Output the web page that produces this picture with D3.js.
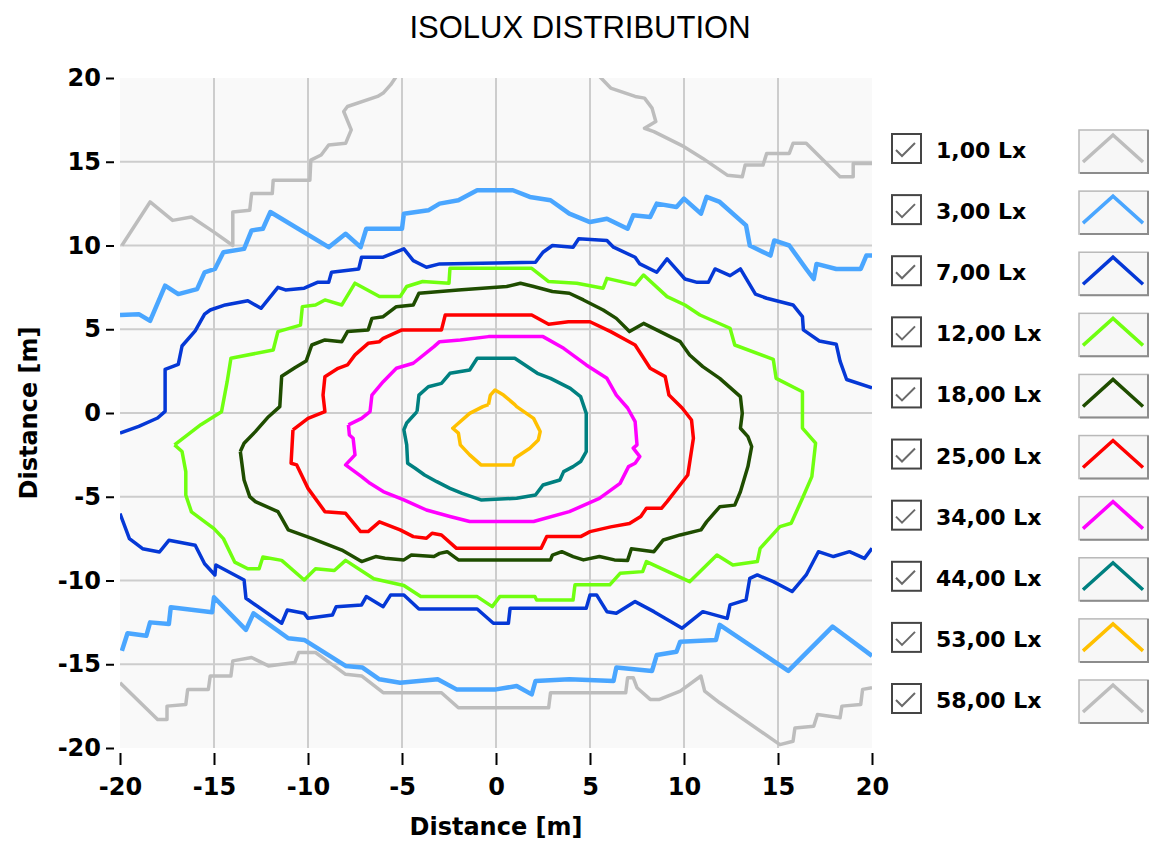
<!DOCTYPE html>
<html>
<head>
<meta charset="utf-8">
<script src="https://cdn.jsdelivr.net/npm/d3@7"></script>
<style>
    body { margin: 0; background: #fff; }
    svg { display: block; }
    .axis text { font-family: "DejaVu Sans", Verdana, sans-serif; font-weight: bold; font-size: 24px; fill: #000; }
    .axis line { stroke: #000; stroke-width: 2; }
</style>
</head>
<body>
<div class="chart"></div>
<script>
// isolux lines, [x, y] in metres
const lx1TopLeft = [[-19.9,10.0],[-18.4,12.6],[-17.2,11.5],[-16.2,11.7],[-15.0,10.8],[-14.0,10.0],[-14.0,12.0],[-13.1,12.1],[-13.0,13.1],[-11.9,13.1],[-11.85,13.9],[-9.9,13.9],[-9.85,15.1],[-9.3,15.4],[-8.9,16.0],[-8.0,16.1],[-7.7,16.9],[-8.1,18.0],[-7.9,18.3],[-6.3,18.9],[-6.0,19.1],[-5.6,19.6],[-5.3,20.1]];
const lx1TopRight = [[5.5,20.1],[6.1,19.4],[7.4,18.9],[7.9,18.8],[8.3,18.2],[8.5,17.4],[7.9,17.0],[8.4,16.8],[10.0,15.9],[11.0,15.2],[12.3,14.2],[13.1,14.1],[13.25,14.8],[14.2,14.8],[14.4,15.5],[15.6,15.5],[15.8,16.1],[16.5,16.1],[18.3,14.1],[19.0,14.1],[19.0,14.9],[20.0,14.9]];
const lx1Bottom = [[-20.0,-16.1],[-18.0,-18.3],[-17.5,-18.3],[-17.5,-17.5],[-16.5,-17.4],[-16.4,-16.5],[-15.3,-16.5],[-15.2,-15.7],[-14.1,-15.7],[-14.0,-14.8],[-13.0,-14.6],[-12.1,-15.1],[-10.7,-14.9],[-10.5,-14.3],[-9.6,-14.3],[-8.0,-15.6],[-7.15,-15.7],[-6.0,-16.7],[-2.9,-16.7],[-2.0,-17.6],[2.8,-17.6],[2.9,-16.7],[6.9,-16.7],[7.0,-15.8],[7.3,-15.8],[7.5,-16.4],[8.2,-17.1],[8.7,-17.1],[9.8,-16.6],[10.9,-15.7],[11.1,-16.6],[11.9,-17.3],[15.1,-19.8],[15.8,-19.6],[15.9,-18.8],[16.9,-18.7],[17.1,-18.0],[18.3,-18.2],[18.4,-17.5],[19.4,-17.4],[19.5,-16.5],[20.0,-16.4]];
const lx3Top = [[-20.0,5.85],[-19.0,5.9],[-18.4,5.5],[-17.6,7.6],[-16.9,7.1],[-15.9,7.4],[-15.5,8.4],[-14.95,8.6],[-14.5,9.6],[-13.4,9.8],[-13.0,10.9],[-12.4,11.0],[-12.0,12.0],[-8.9,9.9],[-8.0,10.7],[-7.2,9.9],[-6.9,11.0],[-5.0,11.0],[-4.9,11.9],[-3.6,12.1],[-3.0,12.5],[-2.0,12.7],[-1.0,13.3],[0.9,13.3],[1.8,12.9],[2.9,12.7],[3.9,11.9],[5.0,11.4],[5.9,11.6],[7.0,11.0],[7.3,11.8],[8.2,11.7],[8.55,12.5],[9.6,12.3],[10.0,12.8],[10.9,11.9],[11.2,12.9],[11.9,12.6],[13.3,11.2],[13.5,10.0],[14.6,9.4],[14.8,10.3],[15.6,10.0],[16.5,8.6],[16.9,8.0],[17.05,8.9],[18.1,8.6],[19.4,8.6],[19.7,9.4],[20.0,9.4]];
const lx3Bottom = [[-19.9,-14.2],[-19.6,-13.15],[-18.6,-13.3],[-18.4,-12.5],[-17.4,-12.6],[-17.3,-11.6],[-15.1,-11.9],[-15.0,-11.0],[-13.3,-12.95],[-12.9,-11.96],[-11.05,-13.45],[-10.2,-13.55],[-8.0,-15.1],[-7.1,-15.2],[-6.2,-15.9],[-5.1,-16.1],[-3.1,-15.9],[-2.1,-16.5],[0.0,-16.5],[1.1,-16.3],[1.9,-16.8],[2.1,-16.0],[3.9,-15.9],[6.25,-16.0],[6.4,-15.2],[8.3,-15.4],[8.55,-14.45],[9.6,-14.25],[9.8,-13.65],[11.7,-13.55],[11.9,-12.65],[15.55,-15.4],[17.9,-12.75],[20.0,-14.5]];
const lx7Top = [[-20.0,-1.2],[-19.0,-0.8],[-18.0,-0.3],[-17.6,0.1],[-17.6,2.6],[-16.9,2.9],[-16.7,4.0],[-16.0,4.9],[-15.5,5.9],[-15.2,6.15],[-14.4,6.45],[-13.2,6.7],[-12.5,6.25],[-11.6,7.5],[-11.2,7.35],[-10.2,7.45],[-9.5,7.8],[-8.9,7.8],[-8.75,8.4],[-7.3,8.6],[-7.15,9.3],[-6.0,9.3],[-4.9,9.8],[-4.4,9.1],[-3.7,8.7],[-3.0,8.9],[2.1,9.0],[2.5,9.6],[3.0,10.0],[4.1,9.9],[4.4,10.4],[5.9,10.3],[6.25,9.9],[7.4,9.3],[7.65,8.9],[8.55,8.4],[9.1,9.2],[10.05,8.0],[10.7,7.8],[11.3,7.8],[11.65,8.6],[12.45,8.2],[13.0,8.6],[13.8,7.1],[14.4,6.85],[15.8,6.45],[16.3,5.75],[16.35,4.96],[17.2,4.3],[18.1,4.1],[18.3,3.1],[18.65,2.0],[20.0,1.5]];
const lx7Bottom = [[-20.0,-6.0],[-19.5,-7.5],[-18.8,-8.1],[-17.9,-8.3],[-17.4,-7.6],[-16.0,-7.9],[-15.5,-9.0],[-14.95,-9.67],[-14.9,-9.07],[-13.4,-9.97],[-13.3,-11.06],[-11.4,-12.55],[-11.1,-11.76],[-10.2,-11.96],[-10.0,-12.26],[-8.7,-12.06],[-8.5,-11.56],[-7.15,-11.46],[-6.9,-10.96],[-6.0,-11.56],[-5.6,-10.86],[-4.9,-10.86],[-4.1,-11.7],[-1.0,-11.7],[-0.14,-12.55],[0.66,-12.55],[0.75,-11.66],[4.8,-11.66],[5.0,-10.86],[5.35,-10.86],[5.9,-11.86],[6.4,-11.96],[7.4,-11.26],[8.4,-11.86],[9.9,-12.85],[11.0,-11.86],[12.3,-12.26],[12.45,-11.46],[13.3,-11.16],[13.5,-9.87],[13.9,-9.67],[14.75,-10.07],[15.75,-10.66],[16.5,-9.67],[17.15,-8.28],[17.95,-8.57],[18.8,-8.28],[19.6,-8.68],[20.0,-8.08]];
const lx12 = [[-17.1,-1.9],[-15.7,-0.7],[-14.6,0.08],[-14.3,1.87],[-14.1,3.27],[-11.85,3.76],[-11.6,4.86],[-10.4,5.25],[-10.3,6.35],[-9.6,6.45],[-9.1,6.75],[-8.2,6.45],[-7.5,7.75],[-6.2,6.95],[-5.1,6.95],[-4.75,7.55],[-3.9,7.85],[-2.5,7.75],[-2.45,8.64],[1.9,8.64],[2.8,7.85],[4.3,7.75],[5.7,7.45],[5.9,8.04],[7.4,7.65],[7.85,8.24],[9.1,6.95],[10.05,6.45],[10.85,5.85],[12.45,5.06],[12.7,4.06],[14.75,3.2],[14.9,2.07],[16.3,1.27],[16.3,-0.9],[17.0,-1.8],[16.8,-3.8],[16.3,-5.09],[15.7,-6.58],[15.1,-6.78],[14.05,-8.08],[13.9,-8.87],[12.6,-9.07],[11.75,-8.48],[10.3,-10.07],[8.0,-8.87],[7.8,-9.47],[6.6,-9.57],[6.05,-10.26],[4.2,-10.26],[4.1,-11.16],[2.16,-11.16],[2.07,-10.96],[0.2,-10.96],[-0.2,-11.56],[-1.0,-10.96],[-4.0,-10.96],[-4.9,-10.3],[-6.5,-9.9],[-8.0,-8.8],[-8.6,-9.4],[-9.6,-9.3],[-10.2,-9.97],[-11.4,-8.8],[-12.4,-8.6],[-12.6,-9.3],[-13.2,-9.3],[-13.9,-8.9],[-14.5,-7.5],[-15.0,-6.9],[-16.2,-5.9],[-16.5,-4.9],[-16.5,-3.5],[-16.7,-2.3],[-17.1,-1.9]];
const lx18 = [[-13.6,-2.3],[-13.4,-1.81],[-12.8,-1.11],[-12.1,-0.22],[-11.5,0.38],[-11.4,2.2],[-10.7,2.7],[-10.1,3.1],[-9.8,4.06],[-9.1,4.36],[-8.2,4.26],[-7.9,4.86],[-6.8,4.96],[-6.6,5.65],[-6.0,5.75],[-5.3,6.35],[-4.4,6.45],[-4.1,7.15],[-2.0,7.35],[0.57,7.55],[1.3,7.75],[2.0,7.55],[3.0,7.25],[3.9,7.15],[4.65,6.75],[5.7,6.15],[6.4,5.65],[7.1,4.86],[7.85,5.35],[9.8,4.26],[10.3,3.46],[11.0,2.77],[11.9,2.07],[13.0,0.98],[13.1,-0.02],[13.0,-0.91],[13.4,-1.41],[13.6,-2.0],[13.4,-3.2],[13.0,-4.7],[12.7,-5.5],[11.9,-5.6],[11.2,-6.5],[10.9,-6.98],[9.8,-7.28],[8.9,-7.58],[8.4,-8.28],[7.2,-8.1],[7.0,-8.8],[6.3,-8.77],[5.5,-8.57],[4.65,-8.77],[4.1,-8.57],[3.5,-8.28],[3.0,-8.48],[2.9,-8.77],[-2.0,-8.77],[-2.6,-8.28],[-3.0,-8.38],[-3.3,-8.57],[-4.5,-8.48],[-4.9,-8.77],[-5.9,-8.67],[-6.4,-8.57],[-7.15,-8.87],[-8.2,-8.18],[-9.8,-7.48],[-11.05,-6.98],[-11.4,-6.28],[-11.6,-5.89],[-12.8,-5.29],[-13.1,-4.99],[-13.4,-4.0],[-13.6,-2.3]];
const lx25 = [[-10.8,-1.01],[-10.0,-0.32],[-9.1,0.08],[-9.2,1.07],[-9.1,2.17],[-8.4,2.67],[-7.9,2.87],[-7.5,3.47],[-6.8,4.16],[-6.2,4.26],[-6.0,4.46],[-5.0,4.96],[-2.9,4.96],[-2.7,5.85],[1.9,5.85],[2.8,5.3],[3.85,5.45],[5.0,5.45],[6.1,4.86],[7.4,4.06],[8.2,2.67],[9.0,2.17],[9.2,1.07],[9.9,0.3],[10.4,-0.42],[10.5,-1.51],[10.2,-3.7],[9.1,-5.29],[8.8,-5.69],[8.0,-5.69],[7.7,-6.18],[7.1,-6.6],[6.1,-6.8],[5.0,-7.08],[4.5,-7.38],[2.7,-7.38],[2.4,-8.08],[-2.1,-8.08],[-2.9,-7.28],[-3.4,-7.18],[-3.7,-7.48],[-4.4,-7.38],[-5.1,-6.98],[-6.2,-6.5],[-6.8,-7.08],[-7.2,-7.08],[-8.0,-5.99],[-9.1,-5.89],[-10.0,-4.5],[-10.6,-3.1],[-10.9,-3.0],[-10.8,-1.01]];
const lx34 = [[-7.85,-0.71],[-7.15,-0.32],[-6.7,0.08],[-6.6,1.07],[-6.0,1.87],[-5.3,2.67],[-4.4,2.97],[-3.3,3.96],[-3.0,4.26],[-1.9,4.36],[-0.4,4.56],[2.5,4.56],[3.6,3.86],[4.8,2.87],[5.9,2.07],[6.4,1.07],[7.0,0.3],[7.4,-0.51],[7.5,-1.9],[7.3,-2.1],[7.65,-2.6],[7.4,-3.0],[7.05,-3.2],[6.6,-4.2],[5.5,-5.1],[3.9,-5.89],[2.0,-6.48],[-1.4,-6.48],[-2.45,-6.18],[-3.7,-5.79],[-4.9,-5.19],[-6.0,-4.69],[-6.7,-4.2],[-7.15,-3.8],[-8.0,-3.1],[-7.5,-2.5],[-7.6,-1.51],[-7.8,-1.31],[-7.85,-0.71]];
const lx44 = [[-4.2,0.08],[-4.1,1.07],[-3.6,1.57],[-2.9,1.77],[-2.45,2.37],[-1.4,2.57],[-1.0,3.27],[1.0,3.27],[2.2,2.37],[2.9,2.07],[3.95,1.47],[4.5,0.98],[4.8,-0.02],[4.8,-2.3],[4.5,-2.9],[4.1,-3.2],[3.6,-3.5],[3.4,-4.0],[2.5,-4.3],[2.1,-4.9],[1.1,-5.09],[-0.8,-5.19],[-1.8,-4.8],[-2.45,-4.5],[-3.15,-4.1],[-3.8,-3.7],[-4.3,-3.3],[-4.7,-3.0],[-4.75,-1.9],[-4.9,-1.0],[-4.75,-0.6],[-4.2,0.08]];
const lx53 = [[-0.4,0.5],[-0.3,1.07],[-0.05,1.37],[0.4,1.07],[1.0,0.5],[1.1,0.38],[2.0,-0.32],[2.35,-1.11],[2.25,-1.61],[1.8,-2.1],[1.0,-2.7],[0.9,-3.1],[-0.8,-3.1],[-1.4,-2.5],[-1.9,-1.9],[-2.0,-1.2],[-2.3,-0.91],[-2.0,-0.61],[-1.4,-0.02],[-0.7,0.38],[-0.4,0.5]];
const lx58 = [];

const levels = [1, 3, 7, 12, 18, 25, 34, 44, 53, 58];
const colors = ["#bdbdbd", "#4aa6ff", "#0538d6", "#70ff10", "#1f4d00", "#ff0000", "#ff00ff", "#008080", "#ffc000", "#bdbdbd"];
const contours = [[lx1TopLeft, lx1TopRight, lx1Bottom], [lx3Top, lx3Bottom], [lx7Top, lx7Bottom], [lx12], [lx18], [lx25], [lx34], [lx44], [lx53], [lx58]];

const xTicks = [-20, -15, -10, -5, 0, 5, 10, 15, 20];
const yTicks = [-20, -15, -10, -5, 0, 5, 10, 15, 20];
const gridTicks = [-15, -10, -5, 0, 5, 10, 15];

const W = 1150, H = 845;
const plot = {left: 120, right: 872, top: 78, bottom: 748};

const svg = d3.select("div.chart")
    .append("svg")
        .attr("width", W)
        .attr("height", H);

const x = d3.scaleLinear().domain([-20, 20]).range([plot.left, plot.right]);
const y = d3.scaleLinear().domain([-20, 20]).range([plot.bottom, plot.top]);

svg.append("text")
    .attr("x", 580)
    .attr("y", 38)
    .attr("text-anchor", "middle")
    .style("font-family", "'Liberation Sans', Arial, sans-serif")
    .style("font-size", "31px")
    .text("ISOLUX DISTRIBUTION");

svg.append("rect")
    .attr("x", plot.left)
    .attr("y", plot.top)
    .attr("width", plot.right - plot.left)
    .attr("height", plot.bottom - plot.top)
    .attr("fill", "#f9f9f9");

svg.append("clipPath")
    .attr("id", "clip")
    .append("rect")
        .attr("x", plot.left)
        .attr("y", plot.top)
        .attr("width", plot.right - plot.left)
        .attr("height", plot.bottom - plot.top);

// grid
svg.append("g")
    .selectAll("line")
    .data(gridTicks)
    .join("line")
    .attr("x1", d => x(d)).attr("x2", d => x(d))
    .attr("y1", plot.top).attr("y2", plot.bottom)
    .attr("stroke", "#cdcdcd").attr("stroke-width", 2);
svg.append("g")
    .selectAll("line")
    .data(gridTicks)
    .join("line")
    .attr("y1", d => y(d)).attr("y2", d => y(d))
    .attr("x1", plot.left).attr("x2", plot.right)
    .attr("stroke", "#cdcdcd").attr("stroke-width", 2);

// axes (plain hyphen for negatives, like the original)
const tickFmt = d => String(d);

svg.append("g")
    .attr("class", "axis")
    .attr("transform", `translate(${plot.left - 6},0)`)
    .call(d3.axisLeft(y).tickValues(yTicks).tickFormat(tickFmt).tickSize(8).tickPadding(5))
    .call(g => g.select(".domain").remove());

svg.append("g")
    .attr("class", "axis")
    .attr("transform", `translate(0,${plot.bottom + 5})`)
    .call(d3.axisBottom(x).tickValues(xTicks).tickFormat(tickFmt).tickSize(12).tickPadding(13))
    .call(g => g.select(".domain").remove());

svg.append("text")
    .attr("x", (plot.left + plot.right) / 2)
    .attr("y", 835)
    .attr("text-anchor", "middle")
    .style("font-family", "'DejaVu Sans', Verdana, sans-serif")
    .style("font-weight", "bold")
    .style("font-size", "24px")
    .text("Distance [m]");

svg.append("text")
    .attr("transform", `translate(37,${(plot.top + plot.bottom) / 2}) rotate(-90)`)
    .attr("text-anchor", "middle")
    .style("font-family", "'DejaVu Sans', Verdana, sans-serif")
    .style("font-weight", "bold")
    .style("font-size", "24px")
    .text("Distance [m]");

// isolux lines
const line = d3.line().x(d => x(d[0])).y(d => y(d[1]));
const lines = svg.append("g").attr("clip-path", "url(#clip)");
contours.forEach((segs, i) => {
    lines.append("g")
        .selectAll("path")
        .data(segs.filter(s => s.length))
        .join("path")
        .attr("d", line)
        .attr("fill", "none")
        .attr("stroke", colors[i])
        .attr("stroke-width", i == 1 ? 4.5 : 3.5)
        .attr("stroke-linejoin", "round");
});

// legend
const legendY = d3.scaleLinear().domain([0, levels.length - 1]).range([149, 699]);
const fmt = v => v.toFixed(2).replace(".", ",") + " Lx";

const item = svg.append("g")
    .selectAll("g")
    .data(levels)
    .join("g")
    .attr("transform", (d, i) => `translate(0,${legendY(i)})`);

item.append("rect")
    .attr("x", 892).attr("y", -15)
    .attr("width", 29).attr("height", 29)
    .attr("fill", "#fff")
    .attr("stroke", "#454545").attr("stroke-width", 2);
item.append("path")
    .attr("d", "M896,1 L902,7 L915,-6")
    .attr("fill", "none")
    .attr("stroke", "#6a6a6a").attr("stroke-width", 2);

item.append("text")
    .attr("x", 936).attr("y", 9)
    .style("font-family", "'DejaVu Sans', Verdana, sans-serif")
    .style("font-weight", "bold")
    .style("font-size", "22px")
    .text(d => fmt(d));

item.append("rect")
    .attr("x", 1079).attr("y", -19)
    .attr("width", 69).attr("height", 43)
    .attr("fill", "#f7f7f7")
    .attr("stroke", "#b9b9b9").attr("stroke-width", 1.5);
item.append("path")
    .attr("d", "M1080,24 L1148,24 L1148,-19")
    .attr("fill", "none")
    .attr("stroke", "#8c8c8c").attr("stroke-width", 2);
item.append("path")
    .attr("d", "M1083,13 L1113,-14 L1143,13")
    .attr("fill", "none")
    .attr("stroke", (d, i) => colors[i])
    .attr("stroke-width", 3.5);
</script>
</body>
</html>
